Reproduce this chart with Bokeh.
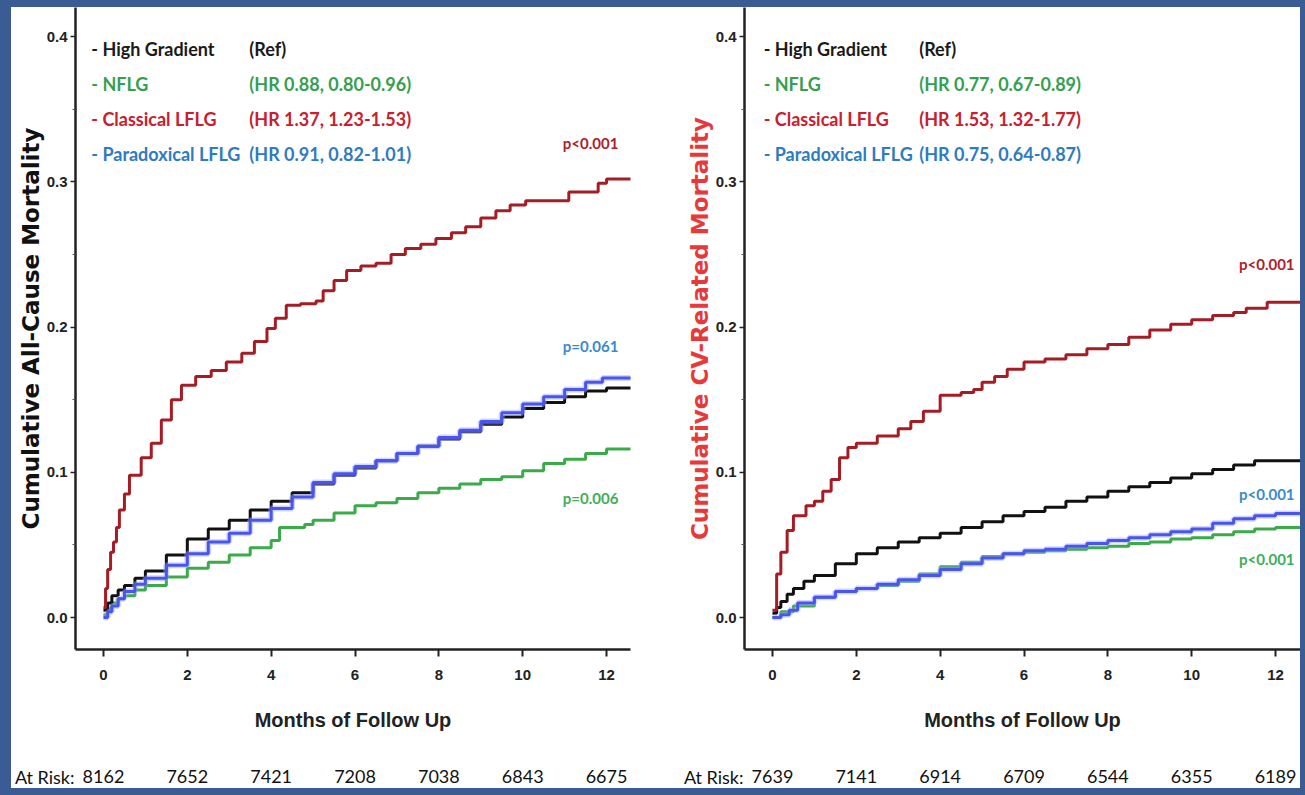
from bokeh.plotting import figure
from bokeh.models import (Range1d, FixedTicker, Spacer, ColumnDataSource, NumeralTickFormatter)
from bokeh.layouts import row, column
from bokeh.embed import file_html
from bokeh.resources import INLINE
from bokeh.core.properties import value

# ---------------- data ----------------
month_ticks = [0, 2, 4, 6, 8, 10, 12]
y_ticks = [0.0, 0.1, 0.2, 0.3, 0.4]
y_minor = [0.05, 0.15, 0.25, 0.35]

groups = ["High Gradient", "NFLG", "Classical LFLG", "Paradoxical LFLG"]
hr_all = ["(Ref)", "(HR 0.88, 0.80-0.96)", "(HR 1.37, 1.23-1.53)", "(HR 0.91, 0.82-1.01)"]
hr_cv = ["(Ref)", "(HR 0.77, 0.67-0.89)", "(HR 1.53, 1.32-1.77)", "(HR 0.75, 0.64-0.87)"]

at_risk_all = [8162, 7652, 7421, 7208, 7038, 6843, 6675]
at_risk_cv = [7639, 7141, 6914, 6709, 6544, 6355, 6189]

p_all = ["p<0.001", "p=0.061", "p=0.006"]          # Classical, Paradoxical, NFLG
p_cv = ["p<0.001", "p<0.001", "p<0.001"]

# All-cause mortality curves (months, cumulative incidence)
all_red_t = [0, 0.05, 0.1, 0.17, 0.24, 0.31, 0.38, 0.5, 0.62, 0.9, 1.14, 1.38, 1.62, 1.86, 2.2, 2.57,
             2.93, 3.3, 3.6, 3.9, 4.1, 4.36, 4.7, 5.07, 5.24, 5.5, 5.8, 6.14, 6.5, 6.86, 7.2, 7.57,
             7.93, 8.3, 8.64, 9.0, 9.36, 9.7, 10.07, 10.8, 11.1, 11.8, 12.0, 12.7]
all_red_y = [0.007, 0.02, 0.033, 0.045, 0.052, 0.062, 0.074, 0.085, 0.098, 0.11, 0.12, 0.136, 0.15,
             0.16, 0.166, 0.17, 0.176, 0.182, 0.19, 0.199, 0.206, 0.215, 0.216, 0.218, 0.225, 0.232,
             0.239, 0.242, 0.244, 0.25, 0.254, 0.257, 0.261, 0.265, 0.269, 0.275, 0.28, 0.284,
             0.287, 0.287, 0.293, 0.299, 0.302, 0.302]
all_blk_t = [0, 0.1, 0.2, 0.35, 0.5, 0.75, 1.0, 1.5, 2.0, 2.5, 3.0, 3.5, 4.0, 4.5, 5.0, 5.5, 6.0, 6.5,
             7.0, 7.5, 8.0, 8.5, 9.0, 9.5, 10.0, 10.5, 11.0, 11.5, 12.0, 12.7]
all_blk_y = [0.005, 0.01, 0.015, 0.019, 0.022, 0.027, 0.032, 0.043, 0.054, 0.061, 0.067, 0.074, 0.08,
             0.086, 0.092, 0.098, 0.103, 0.108, 0.113, 0.118, 0.123, 0.128, 0.133, 0.138, 0.144,
             0.148, 0.152, 0.156, 0.158, 0.158]
all_blu_t = [0, 0.1, 0.2, 0.35, 0.5, 0.75, 1.0, 1.5, 2.0, 2.5, 3.0, 3.5, 4.0, 4.5, 5.0, 5.5, 6.0, 6.5,
             7.0, 7.5, 8.0, 8.5, 9.0, 9.5, 10.0, 10.5, 11.0, 11.5, 11.9, 12.7]
all_blu_y = [0.0, 0.004, 0.008, 0.013, 0.018, 0.023, 0.027, 0.036, 0.044, 0.052, 0.058, 0.067, 0.075,
             0.083, 0.093, 0.099, 0.104, 0.108, 0.113, 0.118, 0.124, 0.129, 0.135, 0.141, 0.147,
             0.152, 0.157, 0.162, 0.165, 0.165]
all_grn_t = [0, 0.1, 0.2, 0.35, 0.5, 0.75, 1.0, 1.5, 2.0, 2.5, 3.0, 3.5, 4.0, 4.2, 4.8, 5.0, 5.5, 6.0,
             6.5, 7.0, 7.5, 8.0, 8.5, 9.0, 9.5, 10.0, 10.5, 11.0, 11.5, 12.0, 12.7]
all_grn_y = [0.002, 0.006, 0.01, 0.013, 0.015, 0.019, 0.022, 0.028, 0.034, 0.038, 0.043, 0.048, 0.053,
             0.062, 0.064, 0.067, 0.072, 0.077, 0.079, 0.082, 0.086, 0.089, 0.092, 0.095, 0.097,
             0.101, 0.106, 0.109, 0.113, 0.116, 0.116]

# CV-related mortality curves
cv_red_t = [0, 0.1, 0.2, 0.35, 0.5, 0.8, 1.0, 1.2, 1.4, 1.6, 1.8, 2.0, 2.5, 3.0, 3.3, 3.6, 4.0, 4.5,
            4.8, 5.0, 5.3, 5.6, 6.0, 6.5, 7.0, 7.5, 8.0, 8.5, 9.0, 9.5, 10.0, 10.5, 11.0, 11.3, 11.8,
            12.7]
cv_red_y = [0.005, 0.03, 0.045, 0.06, 0.07, 0.077, 0.08, 0.087, 0.095, 0.11, 0.117, 0.12, 0.125, 0.13,
            0.135, 0.142, 0.153, 0.155, 0.157, 0.162, 0.166, 0.171, 0.176, 0.178, 0.181, 0.185,
            0.188, 0.193, 0.198, 0.202, 0.205, 0.208, 0.21, 0.213, 0.217, 0.217]
cv_blk_t = [0, 0.1, 0.2, 0.35, 0.5, 0.75, 1.0, 1.5, 2.0, 2.5, 3.0, 3.5, 4.0, 4.5, 5.0, 5.5, 6.0, 6.5,
            7.0, 7.5, 8.0, 8.5, 9.0, 9.5, 10.0, 10.5, 11.0, 11.5, 12.0, 12.7]
cv_blk_y = [0.003, 0.007, 0.011, 0.016, 0.02, 0.025, 0.029, 0.037, 0.044, 0.048, 0.052, 0.055, 0.058,
            0.062, 0.066, 0.07, 0.073, 0.076, 0.08, 0.083, 0.087, 0.09, 0.093, 0.096, 0.099,
            0.102, 0.105, 0.108, 0.108, 0.108]
cv_blu_t = [0, 0.2, 0.4, 0.6, 1.0, 1.5, 2.0, 2.5, 3.0, 3.5, 4.0, 4.5, 5.0, 5.5, 6.0, 6.5, 7.0, 7.5,
            8.0, 8.5, 9.0, 9.5, 10.0, 10.5, 11.0, 11.5, 12.0, 12.7]
cv_blu_y = [0.0, 0.002, 0.005, 0.01, 0.014, 0.018, 0.02, 0.023, 0.026, 0.029, 0.033, 0.037, 0.041,
            0.044, 0.046, 0.047, 0.049, 0.051, 0.053, 0.055, 0.057, 0.059, 0.061, 0.065, 0.068,
            0.07, 0.0716, 0.0716]
cv_grn_t = [0, 0.2, 0.5, 1.0, 1.5, 2.0, 2.5, 3.0, 3.5, 4.0, 4.5, 5.0, 5.5, 6.0, 6.5, 7.0, 7.5, 8.0,
            8.5, 9.0, 9.5, 10.0, 10.5, 11.0, 11.5, 12.0, 12.7]
cv_grn_y = [0.0, 0.004, 0.008, 0.014, 0.018, 0.02, 0.022, 0.025, 0.03, 0.035, 0.038, 0.042, 0.044,
            0.045, 0.046, 0.047, 0.048, 0.049, 0.051, 0.052, 0.054, 0.055, 0.057, 0.059, 0.061,
            0.062, 0.062]

# ---------------- styling / geometry ----------------
BG_BLUE = "#3b5b95"
LINE_COLORS = {"blk": "#111111", "grn": "#3aaa4a", "red": "#a51c24", "blu": "#4a55ee"}
LEG_COLORS = ["#1a1a1a", "#34a04f", "#c8202e", "#2e7bc0"]
P_COLORS = ["#b0202a", "#3a8ad0", "#3fae5a"]
AX_FONT = "Liberation Sans"
TXT_FONT = "Lato"
X_START = -0.667          # month value at the left edge of each plot frame
BORDER_L = 63
MAIN_H = 751
RISK_H = 30
Y_RANGE = (-0.022, 0.42)
RISK_ROW = 12             # level of the at-risk row inside its 0..30 strip


def panel(width, br, x_end, ylabel, ylabel_color, curves, hr, pvals, p_pos, at_risk, leg_x):
    p = figure(width=width, height=MAIN_H, x_range=Range1d(X_START, x_end),
               y_range=Range1d(*Y_RANGE),
               output_backend="svg", toolbar_location=None,
               min_border_left=BORDER_L, min_border_right=br, min_border_top=0,
               min_border_bottom=MAIN_H - 642,
               background_fill_color="white", border_fill_color="white",
               outline_line_color=None)
    p.xgrid.visible = False
    p.ygrid.visible = False

    xa = p.xaxis[0]
    xa.ticker = FixedTicker(ticks=month_ticks, minor_ticks=[])
    xa.axis_line_width = 2.5
    xa.axis_line_color = "#222222"
    xa.major_tick_line_width = 2
    xa.major_tick_line_color = "#222222"
    xa.major_tick_out = 7
    xa.major_tick_in = 0
    xa.major_label_standoff = 13
    xa.major_label_text_font = AX_FONT
    xa.major_label_text_font_style = "bold"
    xa.major_label_text_font_size = "15px"
    xa.major_label_text_color = "#222222"
    xa.axis_label = "Months of Follow Up"
    xa.axis_label_text_font = AX_FONT
    xa.axis_label_text_font_style = "bold"
    xa.axis_label_text_font_size = "20px"
    xa.axis_label_text_color = "#222222"
    xa.axis_label_standoff = 26

    ya = p.yaxis[0]
    ya.ticker = FixedTicker(ticks=y_ticks, minor_ticks=y_minor)
    ya.formatter = NumeralTickFormatter(format="0.0")
    ya.axis_line_width = 2.5
    ya.axis_line_color = "#222222"
    ya.major_tick_line_width = 1.5
    ya.major_tick_line_color = "#222222"
    ya.major_tick_out = 5
    ya.major_tick_in = 0
    ya.minor_tick_line_color = "#555555"
    ya.minor_tick_out = 3
    ya.minor_tick_in = 0
    ya.major_label_standoff = 3
    ya.major_label_text_font = AX_FONT
    ya.major_label_text_font_style = "bold"
    ya.major_label_text_font_size = "15px"
    ya.major_label_text_color = "#222222"
    ya.axis_label = ylabel
    ya.axis_label_text_font = "DejaVu Sans"
    ya.axis_label_text_font_style = "bold"
    ya.axis_label_text_font_size = "23px"
    ya.axis_label_text_color = ylabel_color
    ya.axis_label_standoff = 0

    # curves (draw order: green, black, blue, red)
    for key in ["grn", "blk", "blu", "red"]:
        t, y = curves[key]
        if key == "blu":
            p.step(t, y, mode="after", line_color="#9aa4ff", line_width=6, line_alpha=0.45)
        p.step(t, y, mode="after", line_color=LINE_COLORS[key], line_width=3)

    # legend text
    rows_y = [0.3917, 0.3676, 0.3435, 0.3194]
    leg = ColumnDataSource(dict(x=[leg_x[0]] * 4, x2=[leg_x[1]] * 4, y=rows_y,
                                name=["- " + g for g in groups], hr=hr, c=LEG_COLORS))
    for col in ["name", "hr"]:
        p.text(x="x" if col == "name" else "x2", y="y", text=col, text_color="c", source=leg,
               text_font=value(TXT_FONT), text_font_style="bold", text_font_size="18px",
               text_baseline="middle", text_align="left")

    # p-values
    ps = ColumnDataSource(dict(x=[q[0] for q in p_pos], y=[q[1] for q in p_pos], t=pvals,
                               c=P_COLORS))
    p.text(x="x", y="y", text="t", text_color="c", source=ps, text_font=value(TXT_FONT),
           text_font_style="bold", text_font_size="15px", text_baseline="middle",
           text_align="center")

    # at-risk row: a strip figure whose frame lines up with the plot frame
    r = figure(width=width, height=RISK_H, x_range=Range1d(X_START, x_end),
               y_range=Range1d(0, RISK_H), output_backend="svg", toolbar_location=None,
               x_axis_location=None, min_border_left=BORDER_L, min_border_right=br,
               min_border_top=0, min_border_bottom=0, outline_line_color=None,
               background_fill_color="white", border_fill_color="white")
    r.xgrid.visible = False
    r.ygrid.visible = False
    ry = r.yaxis[0]
    ry.ticker = FixedTicker(ticks=[RISK_ROW], minor_ticks=[])
    ry.major_label_overrides = {RISK_ROW: "At Risk:"}
    ry.axis_line_color = None
    ry.major_tick_line_color = None
    ry.minor_tick_line_color = None
    ry.major_tick_out = 0
    ry.major_tick_in = 0
    ry.major_label_standoff = 1
    ry.major_label_text_font = TXT_FONT
    ry.major_label_text_font_size = "18px"
    ry.major_label_text_font_style = "normal"
    ry.major_label_text_color = "#111111"
    rs = ColumnDataSource(dict(x=month_ticks, y=[RISK_ROW] * len(month_ticks),
                               t=[str(n) for n in at_risk]))
    r.text(x="x", y="y", text="t", source=rs, text_font=value(TXT_FONT), text_font_size="18px",
           text_color="#111111", text_align="center", text_baseline="middle")
    return column(p, r)


p1 = panel(669, 50, 12.571, "Cumulative All-Cause Mortality", "#111111",
           {"red": (all_red_t, all_red_y), "blk": (all_blk_t, all_blk_y),
            "blu": (all_blu_t, all_blu_y), "grn": (all_grn_t, all_grn_y)},
           hr_all, p_all, [(11.62, 0.327), (11.62, 0.187), (11.62, 0.082)], at_risk_all,
           (-0.29, 3.48))
p2 = panel(620, 0, 12.595, "Cumulative CV-Related Mortality", "#e8393a",
           {"red": (cv_red_t, cv_red_y), "blk": (cv_blk_t, cv_blk_y),
            "blu": (cv_blu_t, cv_blu_y), "grn": (cv_grn_t, cv_grn_y)},
           hr_cv, p_cv, [(11.79, 0.2437), (11.79, 0.0854), (11.79, 0.0406)], at_risk_cv,
           (-0.21, 3.5))

blue = {"background-color": BG_BLUE}
H = MAIN_H + RISK_H
middle = row(Spacer(width=11, height=H, styles=blue), p1, p2,
             Spacer(width=5, height=H, styles=blue))
layout = column(Spacer(width=1305, height=7, styles=blue), middle,
                Spacer(width=1305, height=7, styles=blue))

open("out.html", "w").write(file_html(layout, INLINE))
